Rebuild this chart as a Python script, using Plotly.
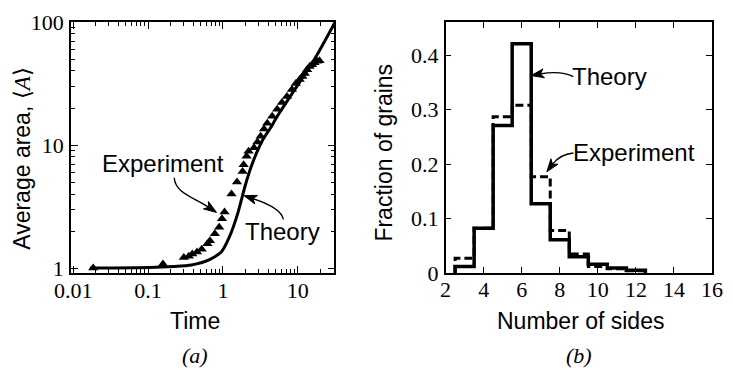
import math
import plotly.graph_objects as go

# ---------------- data ----------------
# (a) mean grain area versus time
theory_t = [0.0167, 0.103, 0.22, 0.38, 0.64, 0.95, 1.22, 1.57, 1.98, 2.36, 2.89,
            3.54, 4.33, 5.30, 10.7, 17.8, 31.6]
theory_a = [1.0, 1.01, 1.03, 1.06, 1.16, 1.35, 1.79, 2.76, 4.67, 6.56, 8.95,
            11.5, 13.8, 17.1, 32.8, 53.2, 100]

exp_t = [0.0185, 0.158, 0.30, 0.35, 0.39, 0.45, 0.52, 0.62, 0.67, 0.78, 0.89,
         0.97, 1.05, 1.30, 1.54, 1.83, 1.89, 2.07, 2.2, 2.6, 2.89, 3.19, 3.54,
         3.91, 4.55, 5.30, 6.15, 7.16, 8.34, 9.42, 10.6, 11.5, 12.4, 13.3,
         14.4, 15.5, 16.7, 18.0, 19.5]
exp_a = [1.0, 1.08, 1.22, 1.25, 1.30, 1.35, 1.42, 1.58, 1.67, 1.90, 2.15,
         2.52, 2.85, 4.0, 5.0, 6.1, 6.9, 8.1, 8.9, 9.5, 10.6, 11.8, 13.5,
         15.0, 17.1, 19.5, 22.2, 24.8, 28.3, 31.6, 34.1, 36.0, 38.1, 41.0,
         43.4, 45.0, 46.7, 48.0, 48.5]

# (b) distribution of the number of sides
sides = [3, 4, 5, 6, 7, 8, 9, 10, 11, 12]
theory_frac = [0.012, 0.082, 0.271, 0.421, 0.127, 0.061, 0.030, 0.016, 0.009, 0.005]
exp_frac = [0.027, 0.082, 0.287, 0.308, 0.177, 0.078, 0.035, 0.012, 0.008, 0.004]

x_ticks_a = [0.01, 0.1, 1, 10]
x_labels_a = ["0.01", "0.1", "1", "10"]
y_ticks_a = [1, 10, 100]
y_labels_a = ["1", "10", "100"]
x_ticks_b = [2, 4, 6, 8, 10, 12, 14, 16]
y_ticks_b = [0, 0.1, 0.2, 0.3, 0.4]
y_labels_b = ["0", "0.1", "0.2", "0.3", "0.4"]

# ---------------- geometry ----------------
W, H = 733, 379
ML, MR, MT, MB = 71, 10, 20, 106
PW, PH = W - ML - MR, H - MT - MB


def px(x):
    return (x - ML) / PW


def py(y):
    return (H - MB - y) / PH


SERIF = "Liberation Serif"
SANS = "Liberation Sans"
INK = "black"


def step_xy(centers, values):
    xs = [centers[0] - 0.5] + [c - 0.5 for c in centers] + [centers[-1] + 0.5] * 2
    ys = [0] + list(values) + [values[-1], 0]
    return xs, ys


fig = go.Figure()

# panel (a)
fig.add_trace(go.Scatter(
    x=exp_t, y=exp_a, mode="markers", xaxis="x", yaxis="y",
    marker=dict(symbol="triangle-up", size=9, color=INK, line=dict(width=0)),
    showlegend=False, hoverinfo="skip"))
fig.add_trace(go.Scatter(
    x=theory_t, y=theory_a, mode="lines", xaxis="x", yaxis="y",
    line=dict(color=INK, width=3, shape="spline", smoothing=0.6),
    showlegend=False, hoverinfo="skip"))

# panel (b)
ex, ey = step_xy(sides, exp_frac)
fig.add_trace(go.Scatter(
    x=ex, y=ey, mode="lines", xaxis="x2", yaxis="y2",
    line=dict(color=INK, width=3, shape="hv", dash="8px,4px"),
    showlegend=False, hoverinfo="skip"))
tx, ty = step_xy(sides, theory_frac)
fig.add_trace(go.Scatter(
    x=tx, y=ty, mode="lines", xaxis="x2", yaxis="y2",
    line=dict(color=INK, width=3.5, shape="hv"),
    showlegend=False, hoverinfo="skip"))


def minor_log(lo_dec, hi_dec):
    vals = []
    for d in range(lo_dec, hi_dec):
        for k in range(2, 10):
            vals.append(k * 10 ** d)
    return vals


axis_common = dict(
    showline=True, linecolor=INK, linewidth=1.5, mirror="allticks",
    ticks="inside", tickcolor=INK, tickwidth=1.3, showgrid=False,
    zeroline=False, tickfont=dict(family=SERIF, size=22, color=INK),
)

fig.update_layout(
    width=W, height=H,
    margin=dict(l=ML, r=MR, t=MT, b=MB),
    paper_bgcolor="white", plot_bgcolor="white",
    font=dict(family=SANS, color=INK),
    xaxis=dict(axis_common, domain=[0, px(339)], type="log",
               range=[-2.03, 1.49], tickvals=x_ticks_a, ticktext=x_labels_a,
               ticklen=7, anchor="y", ticklabelstandoff=-3,
               minor=dict(ticks="inside", ticklen=4, tickcolor=INK, tickwidth=1,
                          tickvals=minor_log(-2, 2), showgrid=False)),
    yaxis=dict(axis_common, domain=[0, 1], type="log",
               range=[-0.04, 2.0], tickvals=y_ticks_a, ticktext=y_labels_a,
               ticklen=7, anchor="x", ticklabelstandoff=1,
               minor=dict(ticks="inside", ticklen=4, tickcolor=INK, tickwidth=1,
                          tickvals=minor_log(0, 2), showgrid=False)),
    xaxis2=dict(axis_common, domain=[px(452), 1], range=[2, 16],
                tickvals=x_ticks_b, ticklen=6, anchor="y2", ticklabelstandoff=-4),
    yaxis2=dict(axis_common, domain=[0, 1], range=[0, 0.461],
                tickvals=y_ticks_b, ticktext=y_labels_b, ticklen=6,
                anchor="x2", ticklabelstandoff=1),
)

# ---------------- text ----------------
ann = []


def label(x, y, text, size=23, family=SANS, angle=0):
    ann.append(dict(x=px(x), y=py(y), xref="paper", yref="paper", text=text,
                    showarrow=False, xanchor="center", yanchor="middle",
                    textangle=angle, font=dict(family=family, size=size, color=INK)))


label(21, 157, "Average area, ⟨<span style='font-family:Liberation Serif'><i>A</i></span>⟩", angle=-90)
label(197, 321, "Time")
label(389, 152, "Fraction of grains", angle=-90)
label(589, 321, "Number of sides")
label(197, 356, "<i>(a)</i>", size=22, family=SERIF)
label(588, 356, "<i>(b)</i>", size=22, family=SERIF)

label(165, 163, "Experiment", size=24)
label(286, 231, "Theory", size=24)
label(619, 75, "Theory", size=24)
label(644, 152, "Experiment", size=24)

fig.update_layout(annotations=ann)

# ---------------- curved pointer arrows ----------------
shapes = []


def arrow(p0, c1, c2, tip, length=13, half=4.5, notch=3.5):
    dx, dy = tip[0] - c2[0], tip[1] - c2[1]
    n = math.hypot(dx, dy)
    ux, uy = dx / n, dy / n
    vx, vy = -uy, ux
    bx, by = tip[0] - ux * length, tip[1] - uy * length
    nx, ny = tip[0] - ux * (length - notch), tip[1] - uy * (length - notch)
    end = (tip[0] - ux * (length - 4), tip[1] - uy * (length - 4))
    path = "M {:.5f},{:.5f} C {:.5f},{:.5f} {:.5f},{:.5f} {:.5f},{:.5f}".format(
        px(p0[0]), py(p0[1]), px(c1[0]), py(c1[1]),
        px(c2[0]), py(c2[1]), px(end[0]), py(end[1]))
    shapes.append(dict(type="path", xref="paper", yref="paper", path=path,
                       line=dict(color=INK, width=1.4)))
    head = "M {:.5f},{:.5f} L {:.5f},{:.5f} L {:.5f},{:.5f} L {:.5f},{:.5f} Z".format(
        px(tip[0]), py(tip[1]),
        px(bx + vx * half), py(by + vy * half),
        px(nx), py(ny),
        px(bx - vx * half), py(by - vy * half))
    shapes.append(dict(type="path", xref="paper", yref="paper", path=head,
                       fillcolor=INK, line=dict(color=INK, width=1)))


arrow((176, 177), (177, 193), (197, 197), (219, 212))
arrow((287, 219), (285, 207), (262, 200), (247, 195))
arrow((582, 75), (570, 69), (556, 71), (539, 74))
arrow((582, 152), (571, 153), (564, 159), (555, 171))

fig.update_layout(shapes=shapes)

fig.write_html("out.html")
